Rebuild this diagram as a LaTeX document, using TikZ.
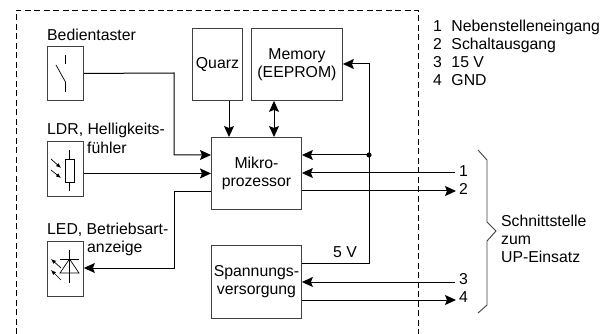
\documentclass[tikz,border=0pt]{standalone}
\usepackage{fontspec}
\setmainfont{Liberation Sans}
\usetikzlibrary{arrows.meta,positioning}

\begin{document}
\begin{tikzpicture}[
  x=1pt, y=-1pt,
  every node/.style={font=\fontsize{15.8}{17.8}\selectfont, inner sep=0pt},
  pipearrow/.style={-{Stealth[length=11pt,width=10pt,inset=2pt]}, line width=1pt},
  bothways/.style={{Stealth[length=11pt,width=10pt,inset=2pt]}-{Stealth[length=11pt,width=10pt,inset=2pt]}, line width=1pt},
  box/.style={draw=black!75, line width=0.9pt, align=center, anchor=north west},
  symbol/.style={line width=0.7pt},
  symbolarrow/.style={-{Latex[length=5pt,width=4pt]}, line width=0.7pt},
  label/.style={align=left, anchor=west}
]
\useasboundingbox (0,0) rectangle (611,334);

% frame
\draw[line width=0.8pt, dash pattern=on 6pt off 3.5pt] (16,334) -- (16,10) -- (418,10) -- (418,334);

% left column
\node[box, minimum width=36pt, minimum height=54pt] (taster) at (47,46) {};
\node[box, minimum width=36pt, minimum height=55pt] (ldr) at (47,141) {};
\node[box, minimum width=36pt, minimum height=55pt] (led) at (47,241) {};
\node[label] (tasterlabel) at (47,35) {Bedientaster};
\node[label] (ldrlabel) at (47,130) {LDR, Helligkeits-};
\node[label] (ldrlabelb) at (87,148) {fühler};
\node[label] (ledlabel) at (47,230) {LED, Betriebsart-};
\node[label] (ledlabelb) at (87,248) {anzeige};

% blocks
\node[box, minimum width=50pt, minimum height=72pt] (quarz) at (192,28) {Quarz};
\node[box, minimum width=91pt, minimum height=72pt] (memory) at (251,28) {Memory\\(EEPROM)};
\node[box, minimum width=90pt, minimum height=72pt] (mikro) at (211,137) {Mikro-\\prozessor};
\node[box, minimum width=90pt, minimum height=73pt] (versorgung) at (211,245) {Spannungs-\\versorgung};

% switch
\draw[symbol] (65.5,55) -- (65.5,64);
\draw[symbol] (65.5,82) -- (65.5,92);
\draw[symbol] (56,65) -- (65.5,82);

% photo resistor
\draw[symbol] (65,159) rectangle (74.5,182);
\draw[symbol] (69.5,150) -- (69.5,159);
\draw[symbol] (69.5,182) -- (69.5,191);
\draw[symbolarrow] (51,159) -- (61,168);
\draw[symbolarrow] (51,170) -- (61,178);

% diode
\draw[symbol] (69.5,250) -- (69.5,283);
\draw[symbol] (60,259) -- (79,259);
\draw[symbol] (69.5,259) -- (79,273) -- (60,273) -- cycle;
\draw[symbolarrow] (61,268) -- (51,259);
\draw[symbolarrow] (61,280) -- (51,270);

% connectors
\coordinate (mikroin) at (211,155);
\coordinate (mikroout) at (211,192);
\coordinate (bus) at (369,155);
\coordinate (pin1) at (455,173);
\coordinate (pin2) at (456,191);
\coordinate (pin3) at (455,282);
\coordinate (pin4) at (456,300);

\draw[pipearrow] (taster.east) -- (174,73) -- (174,155) -- (mikroin);
\draw[pipearrow] (ldr.east |- mikro.center) ++(0,0) -- (mikro.west);
\draw[pipearrow] (mikroout) -- (174,192) -- (174,268) -- (led.east |- 0,268);
\draw[pipearrow] (quarz.south -| 229,0) -- (mikro.north -| 229,0);
\draw[bothways] (memory.south -| 274,0) -- (mikro.north -| 274,0);
\draw[pipearrow] (bus) -- (bus -| mikro.east);
\draw[pipearrow] (versorgung.east |- 0,263) -- (369,263) -- (369,64) -- (memory.east |- 0,64);
\fill (bus) circle (2.6pt);
\draw[pipearrow] (pin1) -- (pin1 -| mikro.east);
\draw[pipearrow] (mikro.east |- pin2) -- (pin2);
\draw[pipearrow] (pin3) -- (pin3 -| versorgung.east);
\draw[pipearrow] (versorgung.east |- pin4) -- (pin4);

\node (volt) at (345,252) {5 V};
\node[label] (nr1) at (459,171) {1};
\node[label] (nr2) at (459,189) {2};
\node[label] (nr3) at (459,279) {3};
\node[label] (nr4) at (459,297) {4};

% brace
\draw[line width=0.9pt, draw=black!75] (478,150) -- (487,160) -- (487,222) -- (496,231) -- (487,241) -- (487,305) -- (478,313);
\node[label] (schnittstelle) at (501,239) {Schnittstelle\\zum\\UP-Einsatz};

% legend
\node[label] (legend) at (433,53) {1\hspace{9.5pt}Nebenstelleneingang\\2\hspace{9.5pt}Schaltausgang\\3\hspace{9.5pt}15 V\\4\hspace{9.5pt}GND};
\end{tikzpicture}
\end{document}
